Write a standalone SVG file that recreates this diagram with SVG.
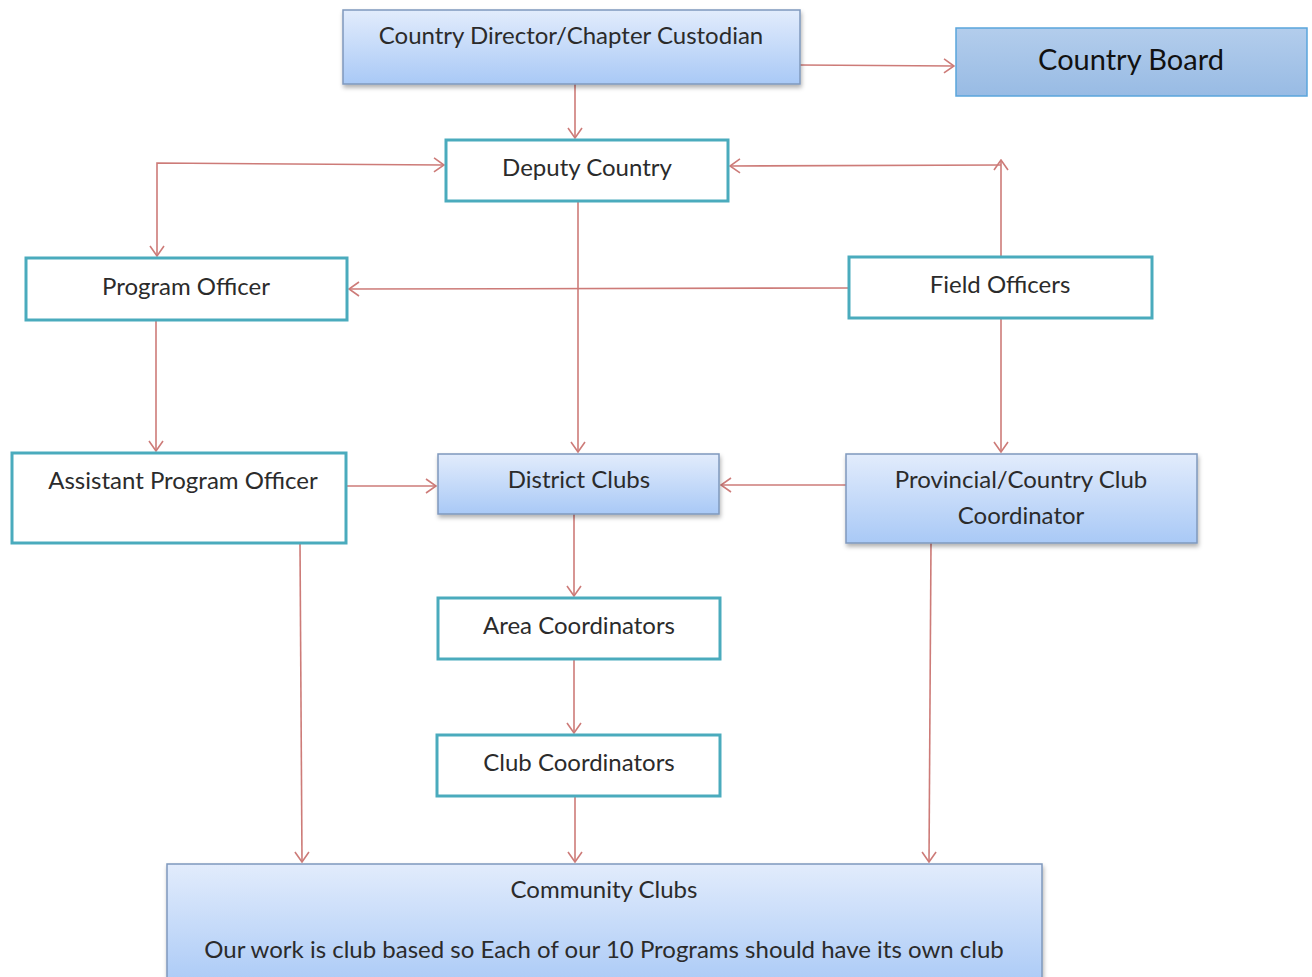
<svg xmlns="http://www.w3.org/2000/svg" width="1312" height="977" viewBox="0 0 1312 977">
<defs>
<linearGradient id="blueG" x1="0" y1="0" x2="0" y2="1">
<stop offset="0" stop-color="#e2ecfc"/>
<stop offset="1" stop-color="#a9c9f6"/>
</linearGradient>
<linearGradient id="boardG" x1="0" y1="0" x2="0" y2="1">
<stop offset="0" stop-color="#b3cdec"/>
<stop offset="1" stop-color="#98bbe4"/>
</linearGradient>
<filter id="sh" x="-5%" y="-10%" width="110%" height="130%">
<feDropShadow dx="1" dy="3" stdDeviation="2" flood-color="#000" flood-opacity="0.3"/>
</filter>
<marker id="arr" viewBox="0 0 12 16" refX="11" refY="8" markerWidth="12" markerHeight="16" markerUnits="userSpaceOnUse" orient="auto-start-reverse">
<path d="M1,1 L11,8 L1,15" fill="none" stroke="#cd7b78" stroke-width="1.6"/>
</marker>
</defs>
<style>
.t{font-family:Lato,"Open Sans","Liberation Sans",sans-serif;font-size:24px;fill:#2b2b2b;text-anchor:middle}
.tb{font-family:Lato,"Open Sans","Liberation Sans",sans-serif;font-size:29px;fill:#111;text-anchor:middle}
.wb{fill:#fff;stroke:#4aabbd;stroke-width:3}
.bb{fill:url(#blueG);stroke:#7f98bd;stroke-width:1.5;filter:url(#sh)}
.c{fill:none;stroke:#cd7b78;stroke-width:1.6}
</style>
<rect width="1312" height="977" fill="#fff"/>
<g id="connectors">
<path class="c" d="M575,84 L575,138" marker-end="url(#arr)"/>
<path class="c" d="M800,65 L954,66" marker-end="url(#arr)"/>
<path class="c" d="M444,165 L157,163 L157,256" marker-start="url(#arr)" marker-end="url(#arr)"/>
<path class="c" d="M1001,257 L1001,160" marker-end="url(#arr)"/>
<path class="c" d="M1001,165 L730,166" marker-end="url(#arr)"/>
<path class="c" d="M849,288 L349,289" marker-end="url(#arr)"/>
<path class="c" d="M578,201 L578,452" marker-end="url(#arr)"/>
<path class="c" d="M156,320 L156,451" marker-end="url(#arr)"/>
<path class="c" d="M346,486 L436,486" marker-end="url(#arr)"/>
<path class="c" d="M846,485 L721,485" marker-end="url(#arr)"/>
<path class="c" d="M1001,318 L1001,452" marker-end="url(#arr)"/>
<path class="c" d="M574,514 L574,596" marker-end="url(#arr)"/>
<path class="c" d="M574,659 L574,733" marker-end="url(#arr)"/>
<path class="c" d="M575,796 L575,862" marker-end="url(#arr)"/>
<path class="c" d="M300,543 L302,862" marker-end="url(#arr)"/>
<path class="c" d="M931,543 L929,862" marker-end="url(#arr)"/>
</g>
<g id="country-director">
<rect class="bb" x="343" y="10" width="457" height="74"/>
<text class="t" x="571" y="44">Country Director/Chapter Custodian</text>
</g>
<g id="country-board">
<rect x="956" y="28" width="351" height="68" fill="url(#boardG)" stroke="#5aa5dc" stroke-width="1.5"/>
<text class="tb" x="1131" y="70">Country Board</text>
</g>
<g id="deputy-country">
<rect class="wb" x="446" y="140" width="282" height="61"/>
<text class="t" x="587" y="176">Deputy Country</text>
</g>
<g id="program-officer">
<rect class="wb" x="26" y="258" width="321" height="62"/>
<text class="t" x="186" y="295">Program Officer</text>
</g>
<g id="field-officers">
<rect class="wb" x="849" y="257" width="303" height="61"/>
<text class="t" x="1000" y="293">Field Officers</text>
</g>
<g id="assistant-program-officer">
<rect class="wb" x="12" y="453" width="334" height="90"/>
<text class="t" x="183" y="489">Assistant Program Officer</text>
</g>
<g id="district-clubs">
<rect class="bb" x="438" y="454" width="281" height="60"/>
<text class="t" x="579" y="488">District Clubs</text>
</g>
<g id="provincial-coordinator">
<rect class="bb" x="846" y="454" width="351" height="89"/>
<text class="t" x="1021" y="488">Provincial/Country Club</text>
<text class="t" x="1021" y="524">Coordinator</text>
</g>
<g id="area-coordinators">
<rect class="wb" x="438" y="598" width="282" height="61"/>
<text class="t" x="579" y="634">Area Coordinators</text>
</g>
<g id="club-coordinators">
<rect class="wb" x="437" y="735" width="283" height="61"/>
<text class="t" x="579" y="771">Club Coordinators</text>
</g>
<g id="community-clubs">
<rect class="bb" x="167" y="864" width="875" height="125"/>
<text class="t" x="604" y="898">Community Clubs</text>
<text class="t" x="604" y="958">Our work is club based so Each of our 10 Programs should have its own club</text>
</g>
</svg>
